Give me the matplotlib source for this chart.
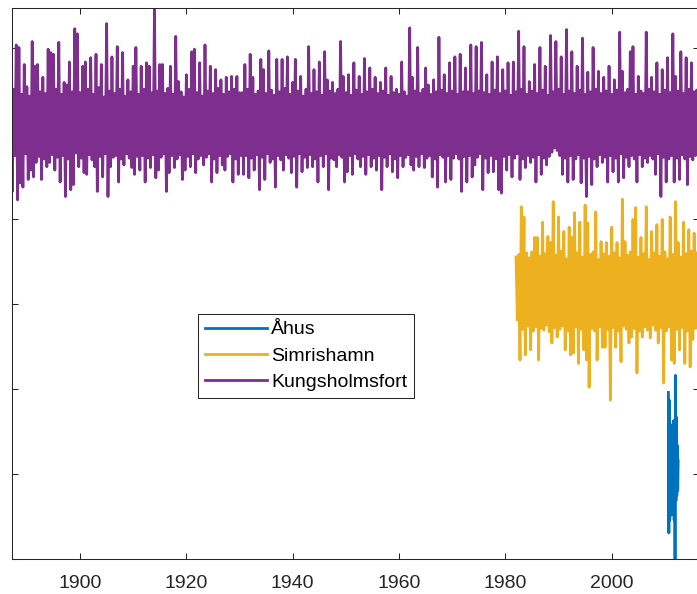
import numpy as np
import matplotlib
matplotlib.use("Agg")
import matplotlib.pyplot as plt

plt.rcParams["font.family"] = ["Liberation Sans", "DejaVu Sans"]

# ===== DATA =====
# Sea level, arbitrary common datum. Each series is stored as alternating
# highs/lows, half a year apart per list.
KUNG_START = 1887.0
kung_high = [
    572, 552, 604, 601, 546, 581, 555, 544, 608, 579,
    581, 549, 566, 547, 599, 595, 593, 552, 607, 546,
    560, 557, 584, 549, 623, 617, 548, 579, 584, 552,
    589, 546, 593, 554, 581, 543, 629, 550, 590, 547,
    602, 552, 595, 544, 563, 549, 579, 601, 546, 579,
    552, 583, 579, 548, 647, 550, 581, 581, 547, 553,
    579, 546, 614, 561, 549, 543, 569, 552, 596, 599,
    548, 583, 544, 604, 550, 579, 547, 575, 553, 563,
    546, 566, 549, 567, 552, 567, 548, 548, 581, 552,
    593, 566, 546, 550, 587, 575, 547, 597, 551, 545,
    587, 549, 587, 553, 590, 546, 560, 587, 550, 567,
    544, 552, 602, 547, 575, 549, 584, 545, 596, 563,
    550, 560, 547, 552, 608, 567, 548, 569, 545, 583,
    551, 567, 546, 588, 549, 577, 552, 566, 547, 560,
    550, 577, 545, 567, 548, 552, 546, 584, 549, 544,
    624, 566, 550, 601, 547, 552, 577, 557, 546, 563,
    549, 613, 551, 569, 547, 583, 550, 590, 546, 593,
    549, 577, 549, 604, 547, 602, 550, 607, 548, 569,
    546, 584, 551, 590, 547, 575, 550, 583, 545, 584,
    549, 620, 552, 602, 546, 561, 550, 581, 547, 601,
    551, 579, 545, 615, 549, 608, 552, 590, 546, 622,
    550, 596, 547, 579, 551, 612, 546, 572, 549, 601,
    552, 573, 547, 566, 550, 579, 546, 563, 551, 619,
    573, 548, 552, 596, 602, 546, 567, 550, 547, 619,
    552, 566, 549, 583, 546, 575, 551, 589, 548, 617,
    567, 550, 596, 547, 589, 552, 583, 549, 551,
]
kung_low = [
    432, 474, 422, 442, 437, 476, 446, 457, 449, 466,
    473, 446, 470, 461, 466, 475, 457, 472, 443, 474,
    426, 470, 434, 440, 477, 461, 471, 454, 452, 475,
    469, 461, 432, 473, 449, 476, 426, 461, 472, 474,
    443, 470, 463, 476, 471, 460, 452, 473, 457, 474,
    443, 471, 460, 475, 448, 457, 472, 476, 432, 454,
    474, 460, 470, 475, 446, 457, 473, 461, 476, 454,
    470, 474, 463, 472, 476, 443, 470, 454, 474, 463,
    457, 473, 476, 443, 470, 452, 474, 452, 474, 448,
    471, 457, 475, 434, 472, 446, 476, 466, 470, 437,
    474, 469, 457, 475, 471, 454, 473, 437, 476, 455,
    472, 460, 475, 461, 470, 443, 474, 461, 476, 434,
    471, 469, 461, 475, 472, 443, 455, 474, 452, 476,
    470, 461, 473, 452, 475, 461, 471, 457, 474, 434,
    472, 461, 476, 455, 470, 448, 474, 461, 472, 475,
    463, 457, 473, 461, 476, 460, 471, 474, 449, 470,
    437, 475, 472, 443, 474, 446, 471, 476, 470, 432,
    473, 443, 474, 449, 463, 472, 476, 434, 471, 454,
    474, 455, 470, 434, 430, 473, 457, 475, 449, 471,
    476, 446, 470, 460, 474, 466, 472, 443, 475, 452,
    471, 463, 473, 478, 483, 480, 474, 452, 471, 443,
    474, 446, 470, 475, 442, 471, 426, 473, 440, 470,
    461, 475, 466, 472, 443, 474, 455, 471, 443, 476,
    448, 472, 461, 474, 470, 443, 475, 461, 471, 466,
    474, 470, 452, 476, 426, 472, 443, 470, 474, 443,
    471, 446, 475, 470, 440, 473, 469, 474, 470,
]

SIMR_START = 1982.0
simr_high = [
    355, 358, 414, 402, 360, 354, 361, 378, 378, 356,
    396, 359, 379, 372, 420, 357, 402, 362, 385, 353,
    390, 378, 407, 360, 396, 355, 416, 395, 358, 361,
    408, 352, 373, 359, 372, 356, 390, 360, 372, 354,
    423, 373, 357, 361, 399, 413, 355, 378, 359, 414,
    352, 385, 360, 393, 356, 399, 361, 353, 402, 358,
    420, 372, 355, 396, 359, 387, 362, 383, 360,
]
simr_low = [
    281, 234, 270, 240, 274, 246, 268, 273, 234, 271,
    269, 275, 267, 254, 272, 261, 270, 274, 246, 268,
    240, 242, 273, 230, 270, 246, 234, 202, 271, 268,
    234, 273, 249, 249, 270, 187, 272, 249, 268, 232,
    274, 270, 254, 261, 271, 219, 268, 261, 273, 269,
    260, 275, 269, 254, 272, 207, 268, 273, 234, 230,
    270, 246, 272, 230, 268, 226, 258, 271, 268,
]

# monthly values
AHUS_START = 2010 + 8 / 12
ahus = [196, 31, 187, 46, 152, 58, 158, 52, 146, 64, 152, 55,
        163, 46, 140, -48, 216, 69, 167, 75, 134, 81, 116]

X_TICKS = list(range(1900, 2001, 20))
Y_TICKS = list(range(0, 601, 100))

colors = {"Åhus": "#0072BD", "Simrishamn": "#EDB120", "Kungsholmsfort": "#7E2F8E"}
AX_COLOR = "#262626"
LW = 2.0


def interleave(high, low):
    n = min(len(high), len(low))
    out = np.empty(2 * n)
    out[0::2] = high[:n]
    out[1::2] = low[:n]
    return out


def main():
    kung = interleave(kung_high, kung_low)
    simr = interleave(simr_high, simr_low)
    t_kung = KUNG_START + 0.25 * np.arange(len(kung))
    t_simr = SIMR_START + 0.25 * np.arange(len(simr))
    t_ahus = AHUS_START + np.arange(len(ahus)) / 12

    fig = plt.figure(figsize=(6.97, 5.94), dpi=100)
    ax = fig.add_axes([12 / 697, 34.7 / 594, 687 / 697, 551 / 594])

    ax.plot(t_ahus, ahus, color=colors["Åhus"], linewidth=LW, label="Åhus")
    ax.plot(t_simr, simr, color=colors["Simrishamn"], linewidth=LW, label="Simrishamn")
    ax.plot(t_kung, kung, color=colors["Kungsholmsfort"], linewidth=LW, label="Kungsholmsfort")

    ax.set_xticks(X_TICKS)
    ax.set_yticks(Y_TICKS)
    ax.set_xlim(1887.2, 2016.42)
    ax.set_ylim(0, 647)
    ax.tick_params(direction="in", length=4.5, width=0.75, colors=AX_COLOR,
                   top=True, right=True, labelleft=False, labelsize=14, pad=11)
    for s in ax.spines.values():
        s.set_color(AX_COLOR)
        s.set_linewidth(0.75)

    leg = ax.legend(loc="upper left", bbox_to_anchor=(198.3 / 697, 1 - 314 / 594),
                    bbox_transform=fig.transFigure, borderaxespad=0, fancybox=False,
                    edgecolor=AX_COLOR, framealpha=1, fontsize=14, handlelength=3.2,
                    handletextpad=0.2, labelspacing=0.45, borderpad=0.35)
    leg.get_frame().set_linewidth(0.75)

    fig.savefig("out.png", dpi=100)


if __name__ == "__main__":
    main()
